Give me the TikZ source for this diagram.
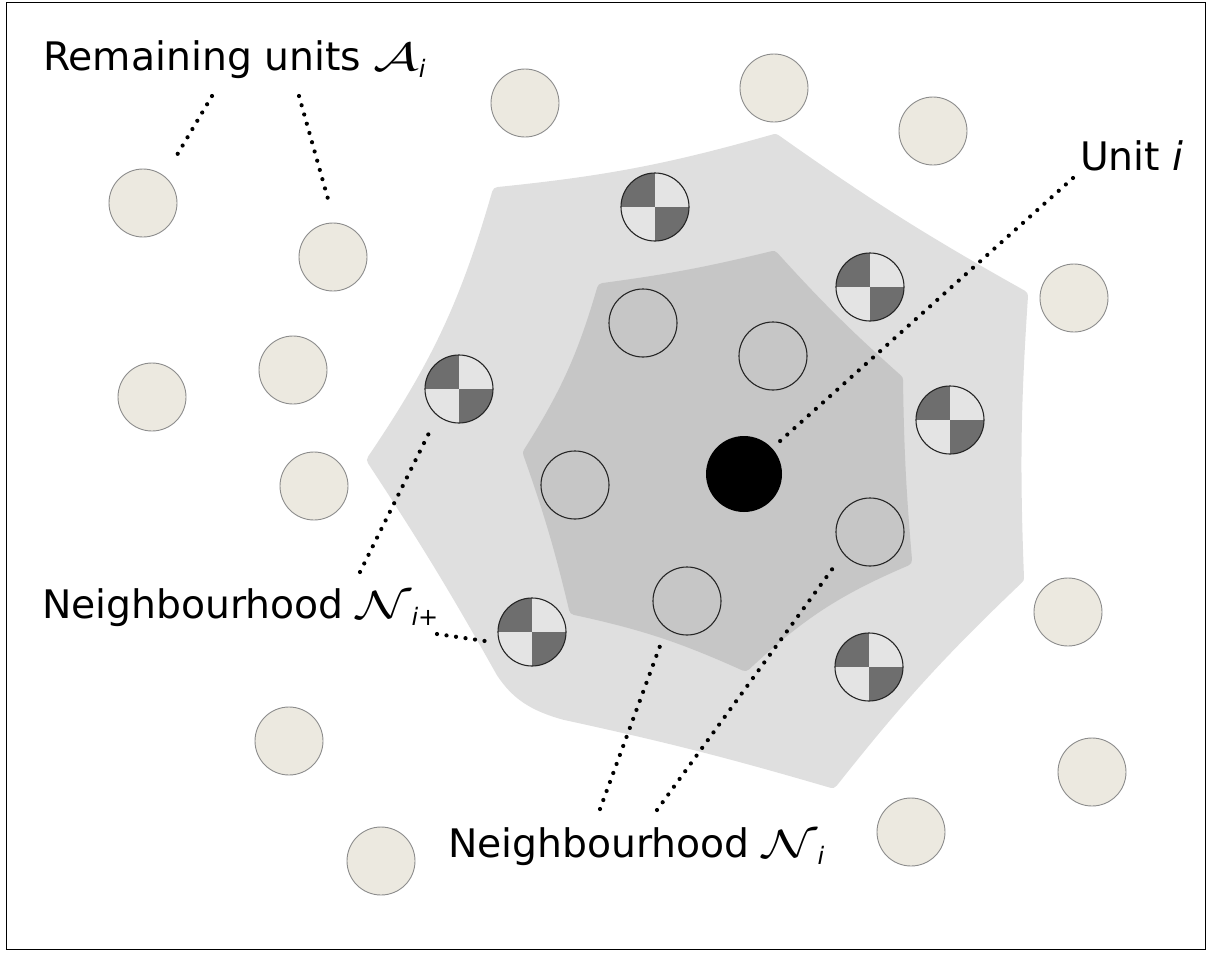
\RequirePackage{fix-cm}
\documentclass[tikz,border=0pt]{standalone}
\usepackage{fontspec}
\setmainfont{DejaVu Sans}
\usepackage{amsmath}
\definecolor{outerg}{HTML}{DFDFDF}
\definecolor{innerg}{HTML}{C6C6C6}
\definecolor{darkq}{HTML}{6E6E6E}
\definecolor{lightq}{HTML}{E4E4E4}
\definecolor{beige}{HTML}{ECE9E0}
\definecolor{beigeline}{HTML}{8C8C8C}
\newcommand\calsym[1]{\scalebox{1.45}[1.0]{$\mathcal{#1}$}}
\newcommand\lowsub[1]{\raisebox{-7pt}{\fontsize{24}{24}\selectfont #1}}
\begin{document}
\begin{tikzpicture}[x=1pt,y=-1pt,
 unitA/.style={circle, minimum size=68pt, inner sep=0pt, outer sep=0pt, fill=beige, draw=beigeline, line width=0.9pt},
 unitN/.style={circle, minimum size=68pt, inner sep=0pt, outer sep=0pt, draw=black!85, line width=1.1pt},
 unitP/.style={circle, minimum size=68pt, inner sep=0pt, outer sep=0pt, draw=black!85, line width=1.1pt, fill=lightq,
   path picture={\fill[darkq] (path picture bounding box.north west) rectangle (path picture bounding box.center);
                 \fill[darkq] (path picture bounding box.center) rectangle (path picture bounding box.south east);}},
 unitI/.style={circle, minimum size=76pt, inner sep=0pt, outer sep=0pt, fill=black},
 leader/.style={line width=4.2pt, line cap=round, dash pattern=on 0pt off 9.6pt, black},
 lbl/.style={font=\fontsize{39.3}{45}\selectfont, inner sep=0pt, anchor=base west},
 blobA/.style={fill=outerg, draw=outerg, line width=12pt, line join=round},
 blobB/.style={fill=innerg, draw=innerg, line width=12pt, line join=round}
]
\useasboundingbox (0,0) rectangle (1208,954);
\draw[line width=1pt] (6.5,2.5) rectangle (1205.5,949.5);

% outer neighbourhood region
\path[blobA] (498,193) to[bend right=5] (775,140) to[bend right=3] (1022,296)
  to[bend right=3] (1018,578) to[bend right=4] (832,782) to[bend right=2] (565,714)
  .. controls (532,705) and (516,693) .. (502,672)
  to[bend right=2] (373,460) to[bend right=9] cycle;
% inner neighbourhood region
\path[blobB] (603,289) to[bend right=3] (773,257) to[bend right=3] (897,380)
  to[bend right=2] (906,560) to[bend right=10] (745,665) to[bend right=6] (575,609)
  to[bend right=3] (529,453) to[bend right=8] cycle;

% remaining units
\node[unitA] (a1) at (143,203) {};
\node[unitA] (a2) at (333,257) {};
\node[unitA] (a3) at (525,103) {};
\node[unitA] (a4) at (774,88) {};
\node[unitA] (a5) at (933,131) {};
\node[unitA] (a6) at (1074,298) {};
\node[unitA] (a7) at (293,370) {};
\node[unitA] (a8) at (152,397) {};
\node[unitA] (a9) at (314,486) {};
\node[unitA] (a10) at (1068,612) {};
\node[unitA] (a11) at (289,741) {};
\node[unitA] (a12) at (1092,772) {};
\node[unitA] (a13) at (911,832) {};
\node[unitA] (a14) at (381,861) {};

% neighbourhood N_i
\node[unitN] (n1) at (643,323) {};
\node[unitN] (n2) at (773,356) {};
\node[unitN] (n3) at (575,485) {};
\node[unitN] (n4) at (870,532) {};
\node[unitN] (n5) at (687,601) {};

% unit i
\node[unitI] (ui) at (744,474) {};

% neighbourhood N_i+
\node[unitP] (p1) at (655,207) {};
\node[unitP] (p2) at (870,287) {};
\node[unitP] (p3) at (459,389) {};
\node[unitP] (p4) at (950,420) {};
\node[unitP] (p5) at (532,632) {};
\node[unitP] (p6) at (869,667) {};

% labels
\node[lbl] (labA) at (43,70) {Remaining units \calsym{A}\lowsub{\itshape i}};
\node[lbl] (labU) at (1080,170) {Unit \textit{i}};
\node[lbl] (labP) at (42,618) {Neighbourhood \calsym{N}\lowsub{\itshape i\upshape +}};
\node[lbl] (labN) at (448,857) {Neighbourhood \calsym{N}\lowsub{\itshape i}};

% leader end points
\coordinate (r1s) at (212,96);  \coordinate (r1e) at (177,155);
\coordinate (r2s) at (299,96);  \coordinate (r2e) at (328,199);
\coordinate (us) at (1073,178); \coordinate (ue) at (779,442);
\coordinate (q1s) at (360,572); \coordinate (q1e) at (429,433);
\coordinate (q2s) at (437,634); \coordinate (q2e) at (485,641);
\coordinate (m1s) at (600,809); \coordinate (m1e) at (660,646);
\coordinate (m2s) at (657,810); \coordinate (m2e) at (833,568);

\draw[leader] (r1s) -- (r1e);
\draw[leader] (r2s) -- (r2e);
\draw[leader] (us) -- (ue);
\draw[leader] (q1s) -- (q1e);
\draw[leader] (q2s) -- (q2e);
\draw[leader] (m1s) -- (m1e);
\draw[leader] (m2s) -- (m2e);
\end{tikzpicture}
\end{document}
